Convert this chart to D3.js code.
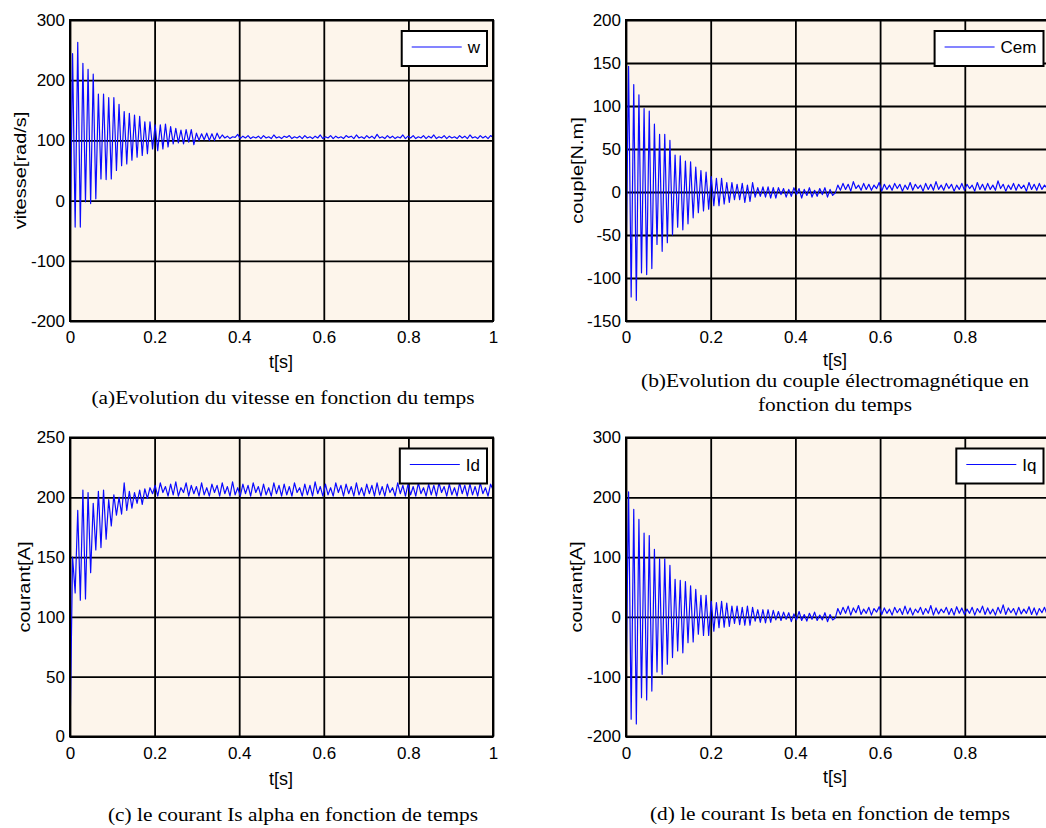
<!DOCTYPE html>
<html>
<head>
<meta charset="utf-8">
<script src="https://cdn.jsdelivr.net/npm/d3@7"></script>
<style>
body { margin: 0; background: #fff; }
svg { display: block; }
</style>
</head>
<body>
<script>
'use strict'

// sample step of the simulated signals [s]
let dt = 0.0061

let tTicks = [0, 0.2, 0.4, 0.6, 0.8, 1]

// (a) vitesse w [rad/s]
let wTicks = [-200, -100, 0, 100, 200, 300]
let wValues = [
    -100, 244, -44, 263, -44, 228, -2, 218, -5, 210,
    3, 177, 36, 177, 35, 171, 36, 171, 50, 160,
    58, 148, 61, 145, 67, 142, 72, 140, 75, 131,
    78, 131, 86, 126, 83, 126, 86, 127, 89, 123,
    94, 120, 96, 117, 94, 118, 97, 118, 93, 112,
    100, 111, 101, 112, 100, 111, 100, 112, 103, 109,
    104, 107, 103, 106, 105, 110, 103, 107, 104, 108,
    103, 106, 104, 107, 103, 108, 104, 106, 103, 109,
    104, 106, 103, 107, 105, 108, 103, 106, 104, 107,
    103, 108, 104, 106, 103, 107, 104, 109, 103, 106,
    104, 108, 103, 107, 104, 106, 103, 108, 105, 107,
    103, 109, 104, 106, 103, 108, 104, 107, 103, 110,
    104, 106, 103, 108, 104, 107, 103, 106, 104, 109,
    103, 107, 104, 108, 103, 106, 104, 108, 103, 107,
    104, 109, 103, 106, 104, 108, 103, 107, 104, 106,
    103, 108, 104, 107, 103, 109, 104, 106, 103, 108,
    104, 107, 103, 108, 105
]

// (b) couple Cem [N.m]
let cemTicks = [-150, -100, -50, 0, 50, 100, 150, 200]
let cemValues = [
    -85, 146, -122, 125, -126, 113, -94, 97, -96, 94,
    -89, 79, -61, 67, -69, 67, -59, 60, -50, 43,
    -41, 42, -44, 36, -37, 35, -30, 29, -24, 25,
    -22, 23, -20, 18, -16, 16, -16, 16, -14, 11,
    -12, 11, -9, 9, -9, 10, -12, 8, -11, 11,
    -6, 5, -5, 6, -6, 6, -7, 5, -7, 5,
    -3, 4, -6, 3, -5, 5, -3, 4, -7, 3,
    -4, 5, -6, 2, -5, 4, -3, 5, -6, 3,
    -4, -1,
    8, 2, 10, 3, 9, 1, 12, 4, 8, 2,
    10, 3, 9, 2, 8, 4, 11, 1, 9, 3,
    8, 2, 10, 4, 9, 1, 8, 3, 11, 2,
    9, 4, 8, 1, 10, 3, 9, 2, 12, 3,
    8, 2, 10, 4, 9, 1, 8, 3, 10, 2,
    9, 4, 8, 1, 11, 3, 9, 2, 10, 3,
    8, 2, 13, 4, 9, 1, 8, 3, 10, 2,
    9, 4, 8, 1, 11, 3, 9, 2, 10, 3,
    8, 4, 11
]

// (c) courant Id [A]
let idTicks = [0, 50, 100, 150, 200, 250]
let idValues = [
    0, 150, 120, 189, 114, 206, 115, 204, 137, 195,
    156, 205, 158, 206, 165, 198, 176, 202, 185, 200,
    186, 212, 189, 205, 191, 204, 195, 206, 194, 207,
    199, 208, 203, 210, 201, 212, 204, 209, 201, 211,
    202, 213, 201, 208, 204, 212, 201, 210, 203, 209,
    201, 212, 202, 208, 201, 211, 204, 210, 201, 212,
    203, 209, 201, 213, 202, 208, 201, 211, 203, 210,
    201, 212, 204, 209, 201, 211, 202, 208, 201, 212,
    203, 210, 201, 211, 202, 209, 201, 212, 204, 208,
    201, 211, 202, 210, 201, 213, 203, 209, 201, 211,
    202, 208, 201, 212, 204, 210, 201, 211, 203, 209,
    201, 212, 202, 208, 201, 211, 203, 210, 201, 212,
    202, 209, 201, 211, 204, 208, 201, 212, 203, 210,
    201, 211, 202, 209, 201, 212, 203, 208, 201, 211,
    202, 210, 201, 212, 204, 209, 201, 211, 202, 208,
    201, 212, 203, 210, 201, 211, 202, 209, 201, 212,
    203, 208, 201, 211, 206
]

// (d) courant Iq [A]
let iqTicks = [-200, -100, 0, 100, 200, 300]
let iqValues = [
    -118, 209, -171, 180, -179, 163, -135, 140, -139, 136,
    -124, 113, -92, 97, -96, 97, -79, 86, -68, 63,
    -57, 61, -60, 59, -43, 52, -42, 46, -29, 36,
    -31, 36, -31, 26, -24, 24, -18, 26, -17, 23,
    -16, 18, -11, 18, -13, 16, -14, 18, -14, 16,
    -7, 12, -9, 12, -10, 12, -9, 11, -5, 9,
    -6, 8, -4, 7, -8, 5, -5, 9, -6, 4,
    -7, 6, -4, 8, -6, 3, -5, 7, -8, 4,
    -5, -2,
    14, 4, 16, 6, 18, 3, 15, 7, 19, 4,
    13, 6, 16, 3, 14, 8, 17, 4, 15, 6,
    13, 3, 16, 7, 14, 4, 18, 5, 15, 3,
    13, 7, 16, 4, 14, 6, 19, 3, 15, 5,
    13, 7, 16, 4, 14, 3, 17, 6, 15, 4,
    13, 6, 16, 3, 14, 7, 18, 4, 15, 5,
    13, 3, 16, 6, 20, 4, 15, 7, 14, 3,
    16, 5, 13, 6, 17, 4, 15, 3, 14, 7,
    16, 4, 15
]

let sans = 'Liberation Sans, Arial, sans-serif',
    serif = 'Liberation Serif, Times New Roman, serif',
    lineColor = '#0a0aff',
    bgColor = '#fdf5eb',
    pageWidth = 1046

let panels = [
    {id: 'a', values: wValues, yTicks: wTicks, yLabel: 'vitesse[rad/s]', legend: 'w',
     left: 70, top: 20, width: 423, height: 301,
     yLabelX: 26, xLabelX: 281, xLabelY: 368,
     caption: ['(a)Evolution du vitesse en fonction du temps'], capW: [383], capX: 283, capY: [404]},
    {id: 'b', values: cemValues, yTicks: cemTicks, yLabel: 'couple[N.m]', legend: 'Cem',
     left: 626, top: 20, width: 423.5, height: 301,
     yLabelX: 583, xLabelX: 835, xLabelY: 366,
     caption: ['(b)Evolution du couple électromagnétique en', 'fonction du temps'], capW: [388, 154], capX: 835, capY: [387, 411]},
    {id: 'c', values: idValues, yTicks: idTicks, yLabel: 'courant[A]', legend: 'Id',
     left: 70, top: 437.5, width: 423, height: 299,
     yLabelX: 30, xLabelX: 281, xLabelY: 785,
     caption: ['(c) le courant Is alpha en fonction de temps'], capW: [370], capX: 293, capY: [821]},
    {id: 'd', values: iqValues, yTicks: iqTicks, yLabel: 'courant[A]', legend: 'Iq',
     left: 626, top: 437.5, width: 423.5, height: 299,
     yLabelX: 582, xLabelX: 835, xLabelY: 783,
     caption: ['(d) le courant Is beta en fonction de temps'], capW: [360], capX: 830, capY: [820]}
]

let svg = d3.select('body').append('svg')
    .attr('width', pageWidth)
    .attr('height', 828)

panels.forEach(function(p) {
    let x = d3.scaleLinear().domain([0, 1]).range([0, p.width])
    let y = d3.scaleLinear().domain(d3.extent(p.yTicks)).range([p.height, 0])

    let g = svg.append('g')
        .attr('transform', 'translate(' + p.left + ',' + p.top + ')')

    g.append('rect')
        .attr('width', p.width)
        .attr('height', p.height)
        .attr('fill', bgColor)

    g.append('clipPath')
        .attr('id', 'clip-' + p.id)
        .append('rect')
        .attr('width', p.width)
        .attr('height', p.height)

    // grid lines come from the axes ticks
    let xAxis = g.append('g')
        .attr('transform', 'translate(0,' + p.height + ')')
        .call(d3.axisBottom(x)
            .tickValues(tTicks)
            .tickSize(-p.height)
            .tickPadding(10)
            .tickFormat(function(d) { return String(d) }))

    let yAxis = g.append('g')
        .call(d3.axisLeft(y)
            .tickValues(p.yTicks)
            .tickSize(-p.width)
            .tickPadding(5)
            .tickFormat(function(d) { return String(d) }))

    ;[xAxis, yAxis].forEach(function(a) {
        a.select('.domain').remove()
        a.selectAll('line')
            .attr('stroke', '#000')
            .attr('stroke-width', 1.8)
        a.selectAll('text')
            .attr('font-family', sans)
            .attr('font-size', 17)
            .attr('fill', '#000')
    })

    // the figure is cut at the right page edge: no label there
    xAxis.selectAll('.tick')
        .filter(function(d) { return p.left + x(d) > pageWidth - 4 })
        .select('text').remove()

    let line = d3.line()
        .x(function(d, i) { return x(i * dt) })
        .y(function(d) { return y(d) })

    g.append('path')
        .datum(p.values)
        .attr('clip-path', 'url(#clip-' + p.id + ')')
        .attr('d', line)
        .attr('fill', 'none')
        .attr('stroke', lineColor)
        .attr('stroke-width', 1.2)
        .attr('stroke-linejoin', 'round')

    g.append('rect')
        .attr('width', p.width)
        .attr('height', p.height)
        .attr('fill', 'none')
        .attr('stroke', '#000')
        .attr('stroke-width', 2)

    // legend
    let leg = g.append('g')
    let legText = leg.append('text')
        .attr('font-family', sans)
        .attr('font-size', 17)
        .attr('fill', '#000')
        .text(p.legend)
    let tw = legText.node().getComputedTextLength()
    let boxW = 10 + 50 + 6 + tw + 7,
        boxH = 35,
        boxX = p.width - 6 - boxW,
        boxY = 11
    leg.insert('rect', 'text')
        .attr('x', boxX)
        .attr('y', boxY)
        .attr('width', boxW)
        .attr('height', boxH)
        .attr('fill', '#fff')
        .attr('stroke', '#000')
        .attr('stroke-width', 2)
    leg.insert('line', 'text')
        .attr('x1', boxX + 10)
        .attr('x2', boxX + 60)
        .attr('y1', boxY + 16)
        .attr('y2', boxY + 16)
        .attr('stroke', lineColor)
        .attr('stroke-width', 1.1)
    legText
        .attr('x', boxX + 66)
        .attr('y', boxY + 22)

    // axis titles
    svg.append('text')
        .attr('x', p.xLabelX)
        .attr('y', p.xLabelY)
        .attr('text-anchor', 'middle')
        .attr('font-family', sans)
        .attr('font-size', 18)
        .text('t[s]')

    svg.append('text')
        .attr('transform', 'translate(' + p.yLabelX + ',' + (p.top + p.height / 2) + ') rotate(-90) scale(1,0.85)')
        .attr('text-anchor', 'middle')
        .attr('font-family', sans)
        .attr('font-size', 20)
        .text(p.yLabel)

    p.caption.forEach(function(c, i) {
        svg.append('text')
            .attr('x', p.capX)
            .attr('y', p.capY[i])
            .attr('text-anchor', 'middle')
            .attr('font-family', serif)
            .attr('font-size', 19)
            .attr('textLength', p.capW[i])
            .attr('lengthAdjust', 'spacingAndGlyphs')
            .text(c)
    })
})
</script>
</body>
</html>
